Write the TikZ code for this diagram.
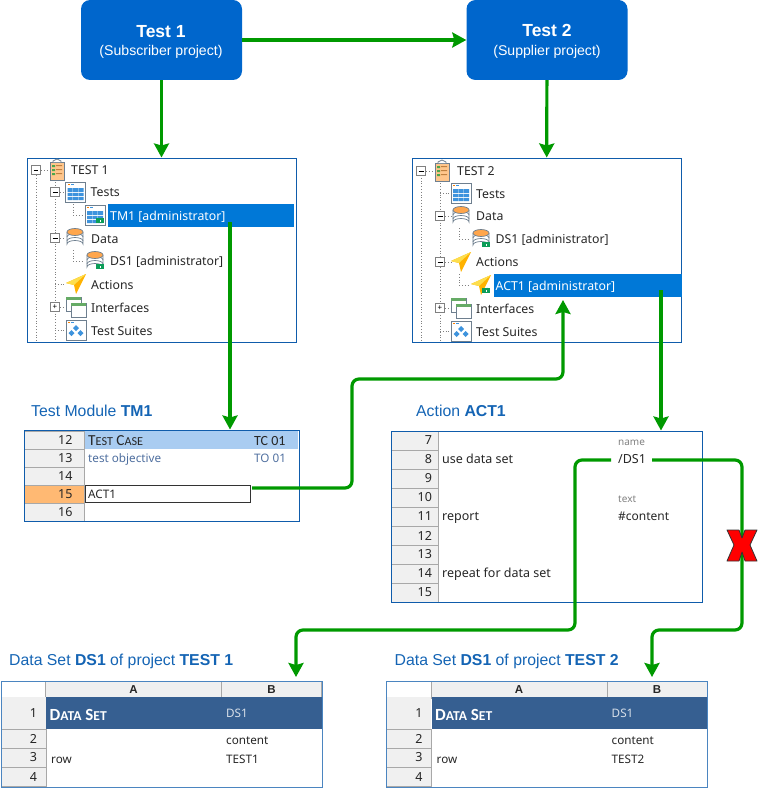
\documentclass[tikz,border=0pt]{standalone}
\usepackage{fontspec}
\setmainfont{Noto Sans}
\newfontfamily\titlefont{Liberation Sans}
\newfontfamily\capsfont{Carlito}
\usetikzlibrary{arrows.meta,positioning}
\definecolor{linkgreen}{HTML}{009900}
\definecolor{boxblue}{HTML}{0066CC}
\definecolor{edgeblue}{HTML}{0F5CAB}
\definecolor{titleblue}{HTML}{1464B4}
\definecolor{selblue}{HTML}{0078D7}
\definecolor{headblue}{HTML}{365F91}
\definecolor{caseblue}{HTML}{A9CCF1}
\definecolor{objblue}{HTML}{4F6F9F}
\definecolor{rowgray}{HTML}{F0F0F0}
\definecolor{linegray}{HTML}{A8A8A8}
\definecolor{icongray}{HTML}{6E7F8F}
\definecolor{celltint}{HTML}{3D93DD}
\definecolor{lockgreen}{HTML}{0C9D58}
\tikzset{
    %Define standard arrow tip
    >={Stealth[length=14pt,width=15pt,inset=2pt]},
    % Define connector style
    link/.style={
           ->,
           draw=linkgreen,
           line width=3.2pt,
           rounded corners=7pt,},
    projectbox/.style={
           rectangle, rounded corners=9pt, fill=boxblue, text=white,
           minimum width=161pt, minimum height=80pt, inner sep=0pt,
           align=center,},
    framebox/.style={
           rectangle, draw=edgeblue, line width=1pt, inner sep=0pt,},
    treetext/.style={anchor=base west, inner sep=0pt, font=\fontsize{12.3}{14}\selectfont, text=black!85},
    tabletext/.style={anchor=base west, inner sep=0pt, font=\fontsize{11.7}{14}\selectfont, text=black!85},
    actiontext/.style={anchor=base west, inner sep=0pt, font=\fontsize{12.5}{14}\selectfont, text=black!85},
    titletext/.style={anchor=base west, inner sep=0pt, text=titleblue, font=\titlefont\fontsize{15.8}{18}\selectfont},
    rowhead/.style={rectangle, draw=linegray, fill=rowgray, inner sep=0pt, text=black!85,
           font=\fontsize{12.5}{14}\selectfont, align=right},
    treeline/.style={draw=gray, dotted, line width=0.8pt},
    expander/.style={rectangle, draw=gray, fill=white, minimum size=9pt, inner sep=0pt},
    icontable/.pic={
        \draw[icongray, fill=white, line width=0.7pt] (-10,-10) rectangle (10,10);
        \fill[celltint] (-8,-4) rectangle (-3,0) (-2.5,-4) rectangle (2.5,0) (3,-4) rectangle (8,0)
                        (-8,1) rectangle (-3,4) (-2.5,1) rectangle (2.5,4) (3,1) rectangle (8,4)
                        (-8,5) rectangle (-3,8) (-2.5,5) rectangle (2.5,8) (3,5) rectangle (8,8);
        \fill[orange] (-8,-8) rectangle (-6,-7);
        \fill[celltint] (-5,-8) rectangle (-2,-7);
    },
    icondata/.pic={
        \draw[icongray, fill=white, line width=0.7pt] (-8,-6) -- (-8,6) arc[start angle=180,end angle=360,x radius=8,y radius=3.5] -- (8,-6);
        \draw[icongray, line width=0.7pt] (-8,-1) arc[start angle=180,end angle=360,x radius=8,y radius=3.5];
        \draw[icongray, line width=0.7pt] (-8,3) arc[start angle=180,end angle=360,x radius=8,y radius=3.5];
        \draw[icongray, fill=orange!70, line width=0.7pt] (0,-6) ellipse[x radius=8,y radius=3.5];
    },
    iconaction/.pic={
        \fill[orange!60!yellow] (-10,-1) -- (10,-10) -- (0,10) -- (-2,1) -- cycle;
        \fill[yellow!70!orange!70] (-10,-1) -- (10,-10) -- (-2,1) -- cycle;
    },
    iconiface/.pic={
        \draw[icongray, fill=white, line width=0.7pt] (-10,-10) rectangle (5,4);
        \fill[green!45!black!60] (-10,-10) rectangle (5,-7);
        \draw[icongray, fill=white, line width=0.7pt] (-5,-4) rectangle (10,10);
        \fill[green!45!black!60] (-5,-4) rectangle (10,-1);
    },
    iconsuite/.pic={
        \draw[icongray, fill=white, line width=0.7pt] (-10,-10) rectangle (10,10);
        \fill[orange] (-8,-8) rectangle (-6,-7);
        \fill[celltint] (-5,-8) rectangle (-2,-7);
        \fill[celltint] (0,-5) -- (3,-2) -- (0,1) -- (-3,-2) -- cycle
                        (-4.5,0) -- (-1.5,3) -- (-4.5,6) -- (-7.5,3) -- cycle
                        (4.5,0) -- (7.5,3) -- (4.5,6) -- (1.5,3) -- cycle;
    },
    iconproject/.pic={
        \draw[icongray, fill=orange!45, line width=0.7pt] (-7,-8) rectangle (7,10);
        \draw[icongray, fill=white, line width=0.7pt] (-4,-8) -- (-4,-9) -- (0,-11) -- (4,-9) -- (4,-8);
        \fill[green!50!black!70] (-5,-5) rectangle (-2,-3) (-5,-1) rectangle (-2,1) (-5,3) rectangle (-2,5);
        \fill[brown] (-1,-5) rectangle (5,-4) (-1,-1) rectangle (5,0) (-1,3) rectangle (5,4);
    },
    iconlock/.pic={
        \draw[lockgreen, line width=1pt] (-2.5,0) arc[start angle=180,end angle=0,radius=2.5];
        \fill[lockgreen] (-3,0) rectangle (5,5);
        \fill[white] (0.5,1.5) rectangle (2,3.5);
    },
}
\begin{document}
\begin{tikzpicture}[x=1pt,y=-1pt]
\useasboundingbox (0,0) rectangle (757,789);
%Projects
\node[projectbox](test1) at (161.5,40){};
\node[font=\titlefont\bfseries\fontsize{17.5}{20}\selectfont, text=white, inner sep=0pt](test1name) at (161,32){Test 1};
\node[font=\titlefont\fontsize{14.1}{16}\selectfont, text=white, inner sep=0pt](test1role) at (161,51.5){(Subscriber project)};
\node[projectbox](test2) at (547,40){};
\node[font=\titlefont\bfseries\fontsize{17.5}{20}\selectfont, text=white, inner sep=0pt](test2name) at (547,30){Test 2};
\node[font=\titlefont\fontsize{14.1}{16}\selectfont, text=white, inner sep=0pt](test2role) at (547,52){(Supplier project)};

%Tree of project 1
\node[framebox, minimum width=269pt, minimum height=184pt](tree1) at (161.5,250){};
\draw[treeline] (36,175) -- (36,341) (55,182) -- (55,341) (73,204) -- (73,215) -- (84,215) (73,250) -- (73,261) -- (84,261)
     (41,170) -- (47,170) (60,192) -- (65,192) (60,238) -- (65,238) (55,284) -- (66,284) (60,307) -- (65,307) (55,330) -- (65,330);
\fill[selblue] (108,204) rectangle (294,227);
\foreach \nm/\x/\y in {a/36/170, b/55/192, c/55/238}
    \node[expander](exp1\nm) at (\x,\y){\rule{5pt}{0.7pt}};
\node[expander](exp1d) at (55,307){\fontsize{8}{8}\selectfont +};
\pic at (57,170) {iconproject};
\pic at (75.5,192) {icontable};
\pic at (95,215) {icontable};
\pic at (99,218) {iconlock};
\pic at (75,238) {icondata};
\pic at (95,261) {icondata};
\pic at (99,264) {iconlock};
\pic at (76,284) {iconaction};
\pic at (76,307) {iconiface};
\pic at (76,330) {iconsuite};
\foreach \nm/\x/\y/\t in {root/71/174.5/TEST 1, tests/90.5/196.5/Tests, data/91/243/Data, ds/110/265.5/DS1 [administrator],
    act/91/289/Actions, ifc/91/312/Interfaces, ste/91/335/Test Suites}
    \node[treetext](t1\nm) at (\x,\y){\t};
\node[treetext, text=white](t1tm) at (110,220){TM1 [administrator]};

%Tree of project 2
\node[framebox, minimum width=269pt, minimum height=184pt](tree2) at (546.5,250){};
\draw[treeline] (421,175) -- (421,341) (440,175) -- (440,341) (459,228) -- (459,239) -- (470,239) (459,274) -- (459,285) -- (470,285)
     (426,171) -- (433,171) (440,193) -- (451,193) (445,216) -- (451,216) (445,262) -- (451,262) (445,308) -- (451,308) (440,331) -- (451,331);
\fill[selblue] (494,274) rectangle (682,297);
\foreach \nm/\x/\y in {a/421/171, c/440/216, e/440/262}
    \node[expander](exp2\nm) at (\x,\y){\rule{5pt}{0.7pt}};
\node[expander](exp2g) at (440,308){\fontsize{8}{8}\selectfont +};
\pic at (442,171) {iconproject};
\pic at (461,193) {icontable};
\pic at (461,216) {icondata};
\pic at (481,239) {icondata};
\pic at (485,242) {iconlock};
\pic at (461,262) {iconaction};
\pic at (481,285) {iconaction};
\pic at (485,288) {iconlock};
\pic at (461,308) {iconiface};
\pic at (461,331) {iconsuite};
\foreach \nm/\x/\y/\t in {root/457/175/TEST 2, tests/476/198/Tests, data/476/220.5/Data, ds/495.5/243.5/DS1 [administrator],
    act/476/266.5/Actions, ifc/476/313/Interfaces, ste/476/336/Test Suites}
    \node[treetext](t2\nm) at (\x,\y){\t};
\node[treetext, text=white](t2act) at (495.5,290){ACT1 [administrator]};

%Test module
\node[titletext](tmtitle) at (31,416){Test Module \textbf{TM1}};
\fill[caseblue] (84,431) rectangle (298,449);
\foreach \n [count=\i] in {12,...,16}
    \node[rowhead, minimum width=60pt, minimum height=18pt, text width=36pt](tmrow\n) at (54.5,{431+18*\i-9}){\n};
\node[rowhead, fill=orange!55, draw=linegray, minimum width=60pt, minimum height=18pt, text width=36pt](tmrow15b) at (54.5,494){15};
\node[framebox, minimum width=275pt, minimum height=91pt](tmtable) at (161.5,475.5){};
\node[rectangle, draw=black!80, fill=white, line width=0.8pt, minimum width=165pt, minimum height=17pt, inner sep=0pt](actcell) at (167.5,493.5){};
\node[tabletext](tmact) at (88,498){ACT1};
\node[anchor=base west, inner sep=0pt, text=black!85, font=\capsfont\fontsize{15.3}{16}\selectfont](tmcase) at (88,445){T{\fontsize{12.2}{16}\selectfont EST} C{\fontsize{12.2}{16}\selectfont ASE}};
\node[tabletext, font=\capsfont\fontsize{14}{16}\selectfont](tmcaseid) at (254,445){TC 01};
\node[tabletext, text=objblue](tmobj) at (88,462.5){test objective};
\node[tabletext, text=objblue](tmobjid) at (254,462.5){TO 01};

%Action
\node[titletext](acttitle) at (416,416){Action \textbf{ACT1}};
\foreach \n [count=\i] in {7,...,15}
    \node[rowhead, minimum width=47pt, minimum height=19pt, text width=35pt](actrow\n) at (414.5,{431+19*\i-9.5}){\n};
\node[framebox, minimum width=311pt, minimum height=171pt](acttable) at (546.5,516.5){};
\foreach \nm/\x/\y/\t in {use/442/463.5/use data set, rep/442/520.5/report, rpt/442/577.5/repeat for data set}
    \node[actiontext](act\nm) at (\x,\y){\t};
\node[actiontext](actdsref) at (618,463.5){/DS1};
\node[actiontext, font=\fontsize{12}{14}\selectfont](actcnt) at (618,520.5){\#content};
\foreach \nm/\y/\t in {nam/445/name, txt/502/text}
    \node[actiontext, text=gray, font=\fontsize{10}{12}\selectfont](act\nm) at (618,\y){\t};

%Data sets
\foreach \p/\dx/\t in {1/0/TEST1, 2/385.5/TEST2}{
\begin{scope}[xshift=\dx pt]
\node[titletext](dstitle\p) at (9,665){Data Set \textbf{DS1} of project \textbf{TEST \p}};
\node[rowhead, minimum width=176pt, minimum height=17pt, font=\titlefont\bfseries\fontsize{11.5}{13}\selectfont, align=center](ds\p A) at (133.5,689.5){A};
\node[rowhead, minimum width=100pt, minimum height=17pt, font=\titlefont\bfseries\fontsize{11.5}{13}\selectfont, align=center](ds\p B) at (271.5,689.5){B};
\node[rectangle, fill=headblue, minimum width=276pt, minimum height=32pt, inner sep=0pt](ds\p head) at (184,713){};
\node[rowhead, draw=none, minimum width=44pt, minimum height=32pt, text width=27pt](ds\p row1) at (23.5,713){1};
\foreach \n/\y in {2/738.5,3/757.5,4/777}
    \node[rowhead, minimum width=45pt, minimum height=19pt, text width=27pt](ds\p row\n) at (23.5,\y){\n};
\node[framebox, minimum width=321pt, minimum height=106pt, draw=edgeblue!75](ds\p table) at (161.5,734.5){};
\node[anchor=base west, inner sep=0pt, text=white, font=\capsfont\bfseries\fontsize{17}{17}\selectfont](ds\p name) at (49.5,720){D{\fontsize{13.6}{17}\selectfont ATA} S{\fontsize{13.6}{17}\selectfont ET}};
\node[tabletext, text=white!80!headblue](ds\p id) at (226,717){DS1};
\node[tabletext](ds\p col) at (226,744){content};
\node[tabletext](ds\p rowname) at (51,763){row};
\node[tabletext](ds\p val) at (226,763){\t};
\end{scope}
}

%Connectors
\coordinate (tmout) at (230,222);
\coordinate (actout) at (661,290);
\coordinate (cellout) at (252,488);
\coordinate (actin) at (563,300);
\coordinate (dsleft) at (611,460);
\coordinate (dsright) at (652,460);
\path[link] (test1) -- (test2);
\path[link] (test1) -- (tree1);
\path[link] (test2) -- (tree2);
\path[link] (tmout) -- (tmout |- tmtable.north);
\path[link] (actout) -- (actout |- acttable.north);
\path[link] (cellout) -- (352,488) -- (352,379) -- (563,379) -- (actin);
\path[link] (dsleft) -- (575,460) -- (575,630) -- (296,630) -- (296,677);
\path[link] (dsright) -- (742,460) -- (742,630) -- (652,630) -- (652,677);

%Cross
\filldraw[fill=red, draw=black!80, line width=0.8pt, line join=round] (727,530) -- (739,530) -- (742,538) -- (745,530) -- (757,530) -- (750,545)
    -- (757,561) -- (745,561) -- (742,552) -- (739,561) -- (727,561) -- (734,545) -- cycle;

\end{tikzpicture}
\end{document}
